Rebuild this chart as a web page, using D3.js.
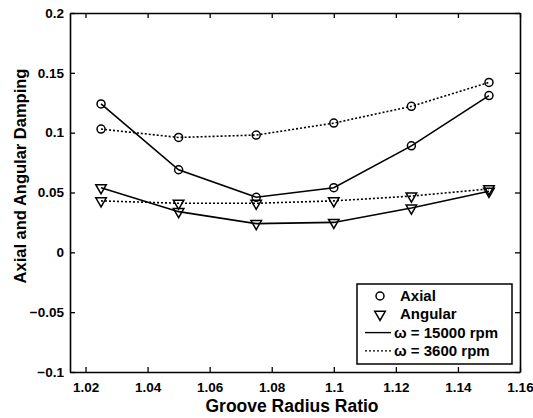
<!DOCTYPE html>
<html>
<head>
<meta charset="utf-8">
<script src="https://cdn.jsdelivr.net/npm/d3@7"></script>
<style>
  body { margin: 0; background: #fff; }
  text { font-family: "Liberation Sans", Arial, sans-serif; font-weight: bold; fill: #000; }
</style>
</head>
<body>
<div id="chart"></div>
<script>
// groove radius ratio values
const ratios = [1.025, 1.05, 1.075, 1.1, 1.125, 1.15];

// damping values
const axial15000 = [0.124, 0.069, 0.046, 0.054, 0.089, 0.131];
const axial3600 = [0.103, 0.096, 0.098, 0.108, 0.122, 0.142];
const angular15000 = [0.054, 0.034, 0.024, 0.025, 0.037, 0.051];
const angular3600 = [0.043, 0.041, 0.041, 0.043, 0.047, 0.053];

const xTicks = [1.02, 1.04, 1.06, 1.08, 1.1, 1.12, 1.14, 1.16];
const yTicks = [-0.1, -0.05, 0, 0.05, 0.1, 0.15, 0.2];

const width = 533, height = 418;
const margin = {top: 13, right: 13, bottom: 46, left: 70};

const svg = d3.select("#chart").append("svg")
    .attr("width", width)
    .attr("height", height);

const x = d3.scaleLinear()
    .domain([1.015, 1.16])
    .range([margin.left, width - margin.right]);

const y = d3.scaleLinear()
    .domain([-0.1, 0.2])
    .range([height - margin.bottom, margin.top]);

// axes with inward ticks
const fmt = d => d3.format("")(+d.toFixed(2));

svg.append("g")
    .attr("transform", `translate(0,${height - margin.bottom})`)
    .call(d3.axisBottom(x).tickValues(xTicks).tickFormat(fmt).tickSizeInner(-5).tickSizeOuter(0).tickPadding(10))
    .call(g => g.selectAll("text").attr("font-size", 13.5));

svg.append("g")
    .attr("transform", `translate(0,${margin.top})`)
    .call(d3.axisTop(x).tickValues(xTicks).tickFormat("").tickSizeInner(-5).tickSizeOuter(0));

svg.append("g")
    .attr("transform", `translate(${margin.left},0)`)
    .call(d3.axisLeft(y).tickValues(yTicks).tickFormat(fmt).tickSizeInner(-5).tickSizeOuter(0).tickPadding(6))
    .call(g => g.selectAll("text").attr("font-size", 13.5));

svg.append("g")
    .attr("transform", `translate(${width - margin.right},0)`)
    .call(d3.axisRight(y).tickValues(yTicks).tickFormat("").tickSizeInner(-5).tickSizeOuter(0));

svg.selectAll(".domain").attr("stroke", "#000").attr("stroke-width", 1.6);
svg.selectAll(".tick line").attr("stroke", "#000").attr("stroke-width", 1.3);
svg.selectAll("text").attr("font-family", "Liberation Sans, Arial, sans-serif").attr("font-weight", "bold");

// axis labels
svg.append("text")
    .attr("x", 292)
    .attr("y", 412)
    .attr("text-anchor", "middle")
    .attr("font-size", 17.5)
    .text("Groove Radius Ratio");

svg.append("text")
    .attr("transform", "translate(26,176) rotate(-90)")
    .attr("text-anchor", "middle")
    .attr("font-size", 16.5)
    .text("Axial and Angular Damping");

const line = d3.line()
    .x((d, i) => x(ratios[i]))
    .y(d => y(d));

const series = [
    {values: axial15000, marker: "circle", dash: null},
    {values: axial3600, marker: "circle", dash: "2,2"},
    {values: angular15000, marker: "triangle", dash: null},
    {values: angular3600, marker: "triangle", dash: "2,2"}
];

const tri = d3.symbol().type(d3.symbolTriangle).size(48);

function drawMarker(g, type, cx, cy) {
    if (type === "circle") {
        g.append("circle")
            .attr("cx", cx).attr("cy", cy).attr("r", 4)
            .attr("fill", "none").attr("stroke", "#000").attr("stroke-width", 1.5);
    } else {
        g.append("path")
            .attr("d", tri)
            .attr("transform", `translate(${cx},${cy}) rotate(180)`)
            .attr("fill", "none").attr("stroke", "#000").attr("stroke-width", 1.5);
    }
}

series.forEach(s => {
    svg.append("path")
        .datum(s.values)
        .attr("d", line)
        .attr("fill", "none")
        .attr("stroke", "#000")
        .attr("stroke-width", 1.6)
        .attr("stroke-dasharray", s.dash);
    const mg = svg.append("g");
    s.values.forEach((v, i) => drawMarker(mg, s.marker, x(ratios[i]), y(v)));
});

// legend
const leg = svg.append("g");
leg.append("rect")
    .attr("x", 357).attr("y", 284)
    .attr("width", 155).attr("height", 80)
    .attr("fill", "#fff").attr("stroke", "#000").attr("stroke-width", 1.5);

const legendItems = [
    {label: "Axial", marker: "circle"},
    {label: "Angular", marker: "triangle"},
    {label: "\u03c9 = 15000 rpm", dash: "none"},
    {label: "\u03c9 = 3600 rpm", dash: "2,2"}
];

legendItems.forEach((d, i) => {
    const ly = 296 + i * 18.3;
    if (d.marker) {
        drawMarker(leg, d.marker, 380, ly);
    } else {
        leg.append("line")
            .attr("x1", 365).attr("x2", 391)
            .attr("y1", ly).attr("y2", ly)
            .attr("stroke", "#000").attr("stroke-width", 1.4)
            .attr("stroke-dasharray", d.dash === "none" ? null : d.dash);
    }
    leg.append("text")
        .attr("x", d.marker ? 400 : 394)
        .attr("y", ly + 5)
        .attr("font-size", 15)
        .text(d.label);
});
</script>
</body>
</html>
